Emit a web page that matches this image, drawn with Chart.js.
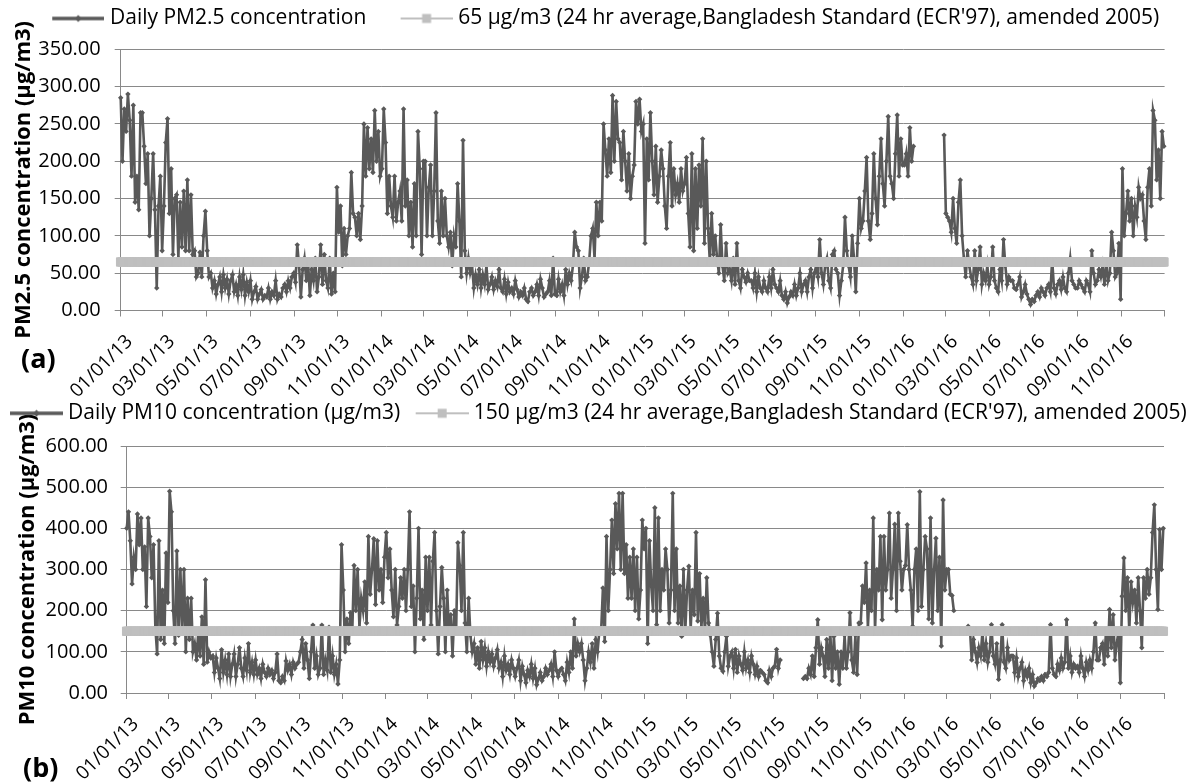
<!DOCTYPE html>
<html>
<head>
<meta charset="utf-8">
<script src="https://cdn.jsdelivr.net/npm/chart.js@4.4.1/dist/chart.umd.min.js"></script>
<style>
  html, body { margin: 0; padding: 0; background: #fff; }
  body { width: 1199px; height: 782px; position: relative; overflow: hidden; font-family: 'Open Sans', sans-serif; }
  .panel { position: absolute; left: 0; width: 1199px; }
  #wrapA { top: 0; height: 400px; }
  #wrapB { top: 385px; height: 397px; }
  .tag { position: absolute; font-weight: bold; font-size: 27px; line-height: 27px; color: #000; }
</style>
</head>
<body>
<div class="panel" id="wrapA"><canvas id="chartA" width="1199" height="400"></canvas></div>
<div class="panel" id="wrapB"><canvas id="chartB" width="1199" height="397"></canvas></div>
<div class="tag" style="left:21px; top:344px;">(a)</div>
<div class="tag" style="left:23px; top:753px;">(b)</div>
<script>
// x axis: a tick every two months, the last one (01/01/17) has no label
const tickLabels = ['01/01/13', '03/01/13', '05/01/13', '07/01/13', '09/01/13', '11/01/13',
  '01/01/14', '03/01/14', '05/01/14', '07/01/14', '09/01/14', '11/01/14',
  '01/01/15', '03/01/15', '05/01/15', '07/01/15', '09/01/15', '11/01/15',
  '01/01/16', '03/01/16', '05/01/16', '07/01/16', '09/01/16', '11/01/16'];
const axisEnd = '01/01/17';
const lastDay = '12/31/16';

// values, about every 2.5 days (12 a month, 13 in December)
const pm25_2013 = [
  285, 200, 270, 240, 290, 255, 180, 275, 145, 180, 135, 265,   // Jan
  265, 220, 170, 210, 100, 150, 210, 135, 30, 140, 180, 80,     // Feb
  140, 225, 257, 130, 190, 75, 150, 155, 70, 145, 85, 160,      // Mar
  80, 175, 80, 155, 75, 80, 45, 50, 78, 45, 100, 133,           // Apr
  80, 45, 50, 30, 40, 22, 35, 45, 25, 48, 30, 42,               // May
  22, 40, 48, 25, 35, 20, 45, 28, 48, 20, 38, 25,               // Jun
  40, 15, 25, 32, 15, 22, 28, 15, 20, 18, 30, 15,               // Jul
  25, 20, 40, 15, 22, 18, 30, 35, 25, 40, 30, 45,               // Aug
  50, 38, 88, 60, 18, 55, 70, 40, 65, 20, 55, 40,               // Sep
  70, 25, 45, 88, 35, 75, 40, 30, 70, 22, 50, 25,               // Oct
  165, 105, 140, 60, 110, 75, 100, 110, 185, 130, 125, 100,     // Nov
  130, 95, 140, 250, 180, 245, 190, 230, 185, 268, 200, 240, 180 // Dec
];
const pm25_2014 = [
  190, 270, 225, 130, 180, 140, 125, 180, 120, 145, 160, 120,
  270, 140, 175, 100, 145, 85, 170, 100, 240, 190, 75, 200,
  200, 100, 165, 195, 100, 160, 265, 120, 90, 160, 100, 150,
  100, 85, 105, 60, 100, 85, 170, 120, 45, 228, 80, 50,
  70, 50, 60, 30, 48, 35, 55, 30, 48, 35, 60, 28,
  35, 45, 28, 40, 32, 55, 30, 25, 42, 22, 38, 25,
  30, 22, 40, 28, 18, 25, 20, 30, 15, 12, 25, 30,
  20, 25, 35, 20, 42, 30, 18, 22, 25, 40, 20, 70,
  22, 20, 42, 25, 35, 20, 55, 35, 50, 40, 60, 105,
  85, 80, 30, 45, 70, 40, 45, 65, 100, 110, 70, 145,
  100, 145, 120, 250, 215, 180, 230, 185, 288, 200, 280, 230,
  225, 175, 240, 200, 160, 210, 150, 180, 195, 280, 250, 283, 240
];
const pm25_2015 = [
  250, 90, 230, 175, 265, 200, 155, 220, 145, 180, 215, 190,
  140, 110, 180, 225, 140, 190, 155, 170, 145, 190, 160, 170,
  205, 130, 85, 210, 80, 190, 110, 195, 140, 230, 90, 200,
  110, 65, 130, 75, 100, 70, 50, 115, 60, 40, 90, 50,
  55, 40, 70, 35, 90, 40, 30, 55, 45, 38, 50, 40,
  40, 30, 50, 25, 45, 30, 25, 40, 30, 25, 45, 30,
  55, 35, 30, 25, 40, 20, 15, 25, 10, 18, 25, 20,
  35, 20, 30, 50, 25, 35, 40, 25, 45, 55, 30, 50,
  60, 45, 95, 50, 35, 60, 70, 40, 30, 75, 80, 55,
  50, 20, 40, 60, 125, 80, 60, 45, 100, 70, 25, 90,
  150, 110, 120, 160, 205, 120, 95, 130, 210, 150, 115, 180,
  230, 170, 140, 200, 260, 180, 170, 150, 210, 262, 180, 230, 195
];
const pm25_2016 = [
  195, 210, 180, 245, 200, 220, null, null, null, null, null, null,
  null, null, null, null, null, null, null, null, null, null, 235, 130,
  125, 120, 105, 150, 110, 90, 145, 175, 100, 70, 45, 80,
  60, 45, 35, 80, 40, 55, 85, 35, 50, 40, 60, 35,
  45, 85, 40, 30, 25, 55, 40, 95, 60, 35, 45, 40,
  40, 30, 28, 35, 45, 18, 25, 35, 22, 15, 8, 15,
  12, 20, 25, 18, 30, 25, 20, 30, 35, 25, 68, 30,
  22, 35, 40, 28, 45, 30, 25, 50, 70, 40, 35, 30,
  30, 40, 35, 30, 25, 40, 35, 25, 80, 50, 35, 40,
  55, 45, 60, 35, 65, 40, 50, 105, 80, 45, 50, 90,
  15, 190, 100, 130, 160, 120, 150, 100, 140, 125, 165, 150,
  155, 120, 95, 165, 190, 140, 268, 255, 175, 215, 150, 240, 220
];

const pm10_2013 = [
  400, 440, 370, 265, 330, 300, 435, 360, 425, 300, 355, 210,
  425, 380, 280, 360, 160, 95, 370, 130, 250, 120, 340, 220,
  490, 440, 200, 120, 345, 140, 300, 150, 300, 100, 230, 130,
  230, 100, 120, 80, 150, 90, 185, 70, 275, 75, 100, 85,
  90, 50, 85, 60, 35, 105, 50, 80, 45, 95, 40, 70,
  95, 40, 70, 110, 60, 40, 85, 55, 120, 50, 75, 45,
  80, 45, 60, 35, 70, 50, 40, 60, 45, 55, 35, 50,
  95, 30, 25, 40, 30, 78, 55, 70, 45, 75, 60, 70,
  75, 100, 130, 60, 120, 80, 35, 100, 165, 60, 90, 45,
  60, 165, 45, 80, 55, 160, 50, 90, 45, 70, 22, 80,
  360, 250, 100, 180, 120, 195, 150, 310, 200, 300, 160, 230,
  200, 270, 170, 380, 240, 300, 375, 215, 370, 250, 300, 220, 330
];
const pm10_2014 = [
  390, 280, 350, 250, 185, 300, 165, 210, 280, 230, 300, 200,
  300, 440, 210, 260, 100, 230, 400, 180, 250, 130, 330, 200,
  330, 165, 320, 390, 200, 95, 210, 305, 230, 100, 250, 150,
  190, 90, 200, 150, 365, 310, 200, 390, 170, 100, 230, 140,
  100, 120, 70, 110, 60, 125, 80, 110, 65, 100, 75, 95,
  65, 85, 105, 60, 75, 40, 90, 55, 70, 45, 80, 60,
  40, 60, 80, 30, 65, 45, 25, 55, 40, 70, 35, 60,
  20, 35, 50, 30, 40, 60, 45, 55, 70, 40, 100, 55,
  40, 55, 60, 45, 30, 75, 50, 100, 60, 180, 90, 120,
  100, 120, 80, 30, 60, 100, 75, 120, 60, 130, 100, 150,
  150, 255, 125, 380, 200, 300, 420, 290, 460, 350, 485, 300,
  485, 290, 360, 230, 330, 230, 350, 200, 330, 180, 250, 420, 350
];
const pm10_2015 = [
  400, 120, 370, 260, 200, 450, 166, 425, 200, 300, 250, 350,
  300, 170, 250, 485, 200, 350, 170, 260, 138, 300, 150, 250,
  308, 155, 250, 190, 390, 175, 290, 160, 230, 150, 280, 170,
  140, 100, 65, 130, 194, 90, 60, 53, 100, 138, 65, 90,
  100, 60, 106, 50, 90, 70, 55, 100, 60, 80, 50, 90,
  70, 45, 65, 40, 55, 50, 45, 30, 25, 55, 40, 60,
  65, 106, 60, 80, null, null, null, null, null, null, null, null,
  null, null, null, null, 35, 40, 35, 60, 45, 90, 40, 110,
  178, 70, 110, 90, 40, 130, 60, 150, 30, 138, 60, 100,
  21, 100, 60, 140, 60, 100, 195, 80, 50, 140, 45, 170,
  170, 260, 220, 316, 160, 250, 200, 425, 150, 300, 250, 380,
  178, 380, 250, 300, 437, 230, 300, 410, 200, 437, 320, 250, 300
];
const pm10_2016 = [
  310, 409, 300, 250, 162, 300, 350, 200, 489, 210, 300, 380,
  350, 180, 425, 170, 300, 376, 200, 330, 114, 469, 250, 300,
  300, 240, 237, 200, null, null, null, null, null, null, null, 162,
  155, 80, 130, 100, 74, 110, 90, 150, 80, 120, 75, 100,
  166, 90, 70, 120, 33, 80, 166, 75, 60, 110, 80, 90,
  90, 50, 85, 40, 60, 75, 30, 55, 40, 60, 25, 45,
  17, 25, 35, 30, 40, 30, 45, 40, 50, 166, 60, 45,
  40, 70, 55, 85, 60, 75, 178, 60, 90, 50, 70, 60,
  65, 50, 90, 60, 40, 75, 55, 80, 60, 100, 170, 80,
  80, 110, 120, 70, 150, 90, 203, 110, 190, 80, 120, 150,
  25, 235, 328, 200, 280, 150, 270, 220, 250, 170, 280, 200,
  110, 280, 230, 300, 240, 280, 390, 457, 300, 203, 397, 300, 400
];

const pm25 = [...pm25_2013, ...pm25_2014, ...pm25_2015, ...pm25_2016];
const pm10 = [...pm10_2013, ...pm10_2014, ...pm10_2015, ...pm10_2016];

// 24 hr Bangladesh standards
const pm25Standard = 65;
const pm10Standard = 150;

const GRID = '#898989';
const DARK = '#595959';
const LIGHT = '#bfbfbf';
Chart.defaults.font.family = "'Open Sans', sans-serif";
Chart.defaults.color = '#000';

function dayOf(s) {
  const [m, d, y] = s.split('/').map(Number);
  return (Date.UTC(2000 + y, m - 1, d) - Date.UTC(2013, 0, 1)) / 86400000;
}
const tickDays = [...tickLabels, axisEnd].map(dayOf);

// legend key: a line with the series marker, shifted inside a wider image
function legendKey(kind, lineW, shift) {
  const c = document.createElement('canvas');
  c.width = Math.round(2 * (shift + lineW / 2));
  c.height = 14;
  const g = c.getContext('2d');
  const x0 = c.width - lineW, cy = 7, cx = x0 + lineW / 2;
  if (kind === 'daily') {
    g.strokeStyle = DARK; g.lineWidth = 3.5;
    g.beginPath(); g.moveTo(x0, cy); g.lineTo(x0 + lineW, cy); g.stroke();
    g.fillStyle = DARK;
    g.beginPath(); g.moveTo(cx, cy - 3.5); g.lineTo(cx + 3.5, cy); g.lineTo(cx, cy + 3.5); g.lineTo(cx - 3.5, cy); g.fill();
  } else {
    g.strokeStyle = LIGHT; g.lineWidth = 2;
    g.beginPath(); g.moveTo(x0, cy); g.lineTo(x0 + lineW, cy); g.stroke();
    g.fillStyle = LIGHT;
    g.fillRect(cx - 4.5, cy - 4.5, 9, 9);
  }
  return c;
}

function makeChart(id, o) {
  const step = dayOf(lastDay) / (o.values.length - 1);
  const daily = o.values.map((v, i) => ({ x: i * step, y: v }));
  const standard = o.values.map((v, i) => ({ x: i * step, y: o.standard }));
  const keys = [legendKey('daily', o.keyW, o.keyShift), legendKey('standard', o.keyW, o.keyShift)];

  return new Chart(document.getElementById(id), {
    type: 'line',
    data: {
      datasets: [
        {
          label: o.dailyLabel, data: daily, order: 1,
          borderColor: DARK, backgroundColor: DARK, borderWidth: 2.6,
          pointStyle: 'rectRot', pointRadius: 2.7, pointBorderWidth: 0, pointBackgroundColor: DARK,
          spanGaps: false, clip: false,
        },
        {
          label: o.standardLabel, data: standard, order: 0,
          borderColor: LIGHT, backgroundColor: LIGHT, borderWidth: 2,
          pointStyle: 'rect', pointRadius: 6, pointBorderWidth: 1,
          pointBorderColor: LIGHT, pointBackgroundColor: LIGHT, clip: false,
        },
      ],
    },
    options: {
      responsive: false,
      animation: false,
      events: [],
      layout: { padding: o.padding },
      scales: {
        x: {
          type: 'linear',
          min: 0,
          max: tickDays[tickDays.length - 1],
          afterBuildTicks: s => { s.ticks = tickDays.map(v => ({ value: v })); },
          afterFit: s => { s.height = o.xHeight; },
          ticks: {
            autoSkip: false, minRotation: 45, maxRotation: 45,
            padding: 14, labelOffset: 9,
            font: { size: 19 }, color: '#000',
            callback: (v, i) => tickLabels[i] || '',
          },
          grid: { drawOnChartArea: false, drawTicks: true, tickLength: 6, color: GRID },
          border: { display: true, color: GRID, width: 1 },
        },
        y: {
          min: 0,
          max: o.yMax,
          afterFit: s => { s.width = o.yWidth; },
          ticks: {
            stepSize: o.yStep, padding: o.yTickPad,
            font: { size: 20 }, color: '#000',
            callback: v => v.toFixed(2),
          },
          grid: { color: GRID, lineWidth: 1, drawTicks: true, tickLength: 6 },
          border: { display: true, color: GRID, width: 1 },
          title: {
            display: true, text: o.yTitle,
            font: { size: 22, weight: 'bold' }, color: '#000',
            padding: { top: o.titlePad, bottom: 0 },
          },
        },
      },
      plugins: {
        tooltip: { enabled: false },
        legend: {
          display: true, position: 'top', align: 'start',
          labels: {
            usePointStyle: true, pointStyleWidth: o.boxW, padding: o.legendPad,
            font: { size: 21 }, color: '#000',
            generateLabels: () => [o.dailyLabel, o.standardLabel].map((text, i) => ({
              text, pointStyle: keys[i], fillStyle: 'transparent', strokeStyle: 'transparent',
              lineWidth: 0, hidden: false, datasetIndex: i,
            })),
          },
        },
      },
    },
    plugins: [{
      id: 'legendRow',
      beforeInit(chart) {
        const fit = chart.legend.fit;
        chart.legend.fit = function () {
          const mw = this.maxWidth;
          this.maxWidth = 3000; // keep both entries on one row
          fit.call(this);
          this.maxWidth = mw;
          this.width = mw;
          this.height = o.legendHeight;
        };
      },
      afterLayout(chart) {
        // the legend row may run into the right margin, as in the original
        chart.legend.right = chart.width;
        chart.legend.width = chart.legend.right - chart.legend.left;
      },
    }],
  });
}

makeChart('chartA', {
  values: pm25, standard: pm25Standard,
  dailyLabel: 'Daily PM2.5 concentration',
  standardLabel: '65 µg/m3 (24 hr average,Bangladesh Standard (ECR\'97), amended 2005)',
  yMax: 350, yStep: 50,
  yTitle: 'PM2.5 concentration (µg/m3)',
  padding: { left: 18, right: 34.4, top: 0, bottom: 0 },
  yWidth: 102.7, xHeight: 89.5, legendHeight: 49.3,
  yTickPad: 14, titlePad: -7.2,
  boxW: 73.5, keyW: 52, keyShift: 15.25, legendPad: 8,
});

makeChart('chartB', {
  values: pm10, standard: pm10Standard,
  dailyLabel: 'Daily PM10 concentration (µg/m3)',
  standardLabel: '150 µg/m3 (24 hr average,Bangladesh Standard (ECR\'97), amended 2005)',
  yMax: 600, yStep: 100,
  yTitle: 'PM10 concentration (µg/m3)',
  padding: { left: -5.5, right: 35, top: 12.8, bottom: 0 },
  yWidth: 132.2, xHeight: 89, legendHeight: 48.2,
  yTickPad: 12.7, titlePad: 20.3,
  boxW: 58, keyW: 53, keyShift: 8, legendPad: 5,
});
</script>
</body>
</html>
